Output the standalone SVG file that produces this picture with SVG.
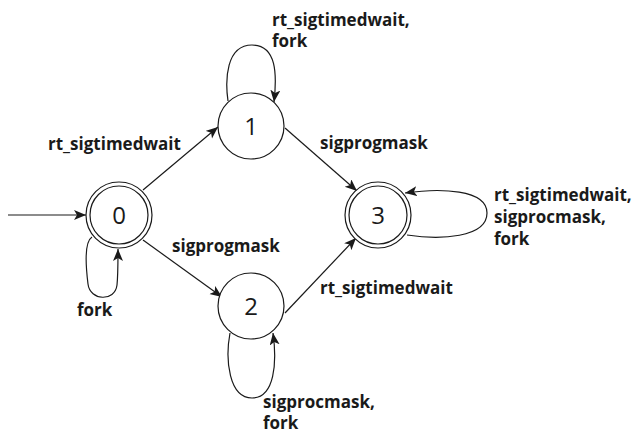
<svg xmlns="http://www.w3.org/2000/svg" width="633" height="434" viewBox="0 0 633 434">
  <style>
    .state { fill: #ffffff; stroke: #1a1a1a; stroke-width: 1.2; }
    .num { font-family: "Open Sans", "Liberation Sans", sans-serif; font-size: 24px; fill: #1a1a1a; text-anchor: middle; }
    .lbl { font-family: "Open Sans", "Liberation Sans", sans-serif; font-size: 17px; font-weight: bold; fill: #1a1a1a; }
    .edge { fill: none; stroke: #1a1a1a; stroke-width: 1.2; marker-end: url(#arrow); }
  </style>
  <defs>
    <marker id="arrow" markerUnits="userSpaceOnUse" markerWidth="14" markerHeight="12" refX="12" refY="5" orient="auto">
      <path d="M0,0 L12,5 L0,10 L3,5 z" fill="#1a1a1a"/>
    </marker>
  </defs>
  <rect width="633" height="434" fill="#ffffff"/>

  <g id="edges">
    <path class="edge" d="M8,215 L86,215"/>
    <path class="edge" d="M143,190 L218,127"/>
    <path class="edge" d="M143,240 L222,297"/>
    <path class="edge" d="M285,128 L357,191"/>
    <path class="edge" d="M285,313 L356,238"/>
    <!-- self loops -->
    <path class="edge" d="M92,237 C84,242 86,268 88,284 C90,301 115,302 117,285 C118,275 118,262 118,249"/>
    <path class="edge" d="M228,101 C225,80 226,45 252,45 C277,45 277,75 274,102"/>
    <path class="edge" d="M230,333 C225,360 229,398 252,398 C275,398 277,362 273,333"/>
    <path class="edge" d="M407,235 C440,240 487,238 487,213 C487,189 440,188 405,193"/>
  </g>

  <g id="edge-labels">
    <text class="lbl" x="272" y="26">rt_sigtimedwait,</text>
    <text class="lbl" x="272" y="47">fork</text>
    <text class="lbl" x="48" y="150">rt_sigtimedwait</text>
    <text class="lbl" x="320" y="149">sigprogmask</text>
    <text class="lbl" x="172" y="252">sigprogmask</text>
    <text class="lbl" x="320" y="294">rt_sigtimedwait</text>
    <text class="lbl" x="77" y="316">fork</text>
    <text class="lbl" x="494" y="201">rt_sigtimedwait,</text>
    <text class="lbl" x="494" y="223">sigprocmask,</text>
    <text class="lbl" x="494" y="245">fork</text>
    <text class="lbl" x="263" y="408">sigprocmask,</text>
    <text class="lbl" x="263" y="429">fork</text>
  </g>

  <g id="state-0">
    <circle class="state" cx="119" cy="215" r="33"/>
    <circle class="state" cx="119" cy="215" r="29"/>
    <text class="num" x="119" y="224">0</text>
  </g>
  <g id="state-1">
    <circle class="state" cx="251" cy="126" r="33"/>
    <text class="num" x="251" y="135">1</text>
  </g>
  <g id="state-2">
    <circle class="state" cx="251" cy="306" r="33"/>
    <text class="num" x="251" y="315">2</text>
  </g>
  <g id="state-3">
    <circle class="state" cx="378" cy="215" r="33"/>
    <circle class="state" cx="378" cy="215" r="29"/>
    <text class="num" x="378" y="224">3</text>
  </g>
</svg>
